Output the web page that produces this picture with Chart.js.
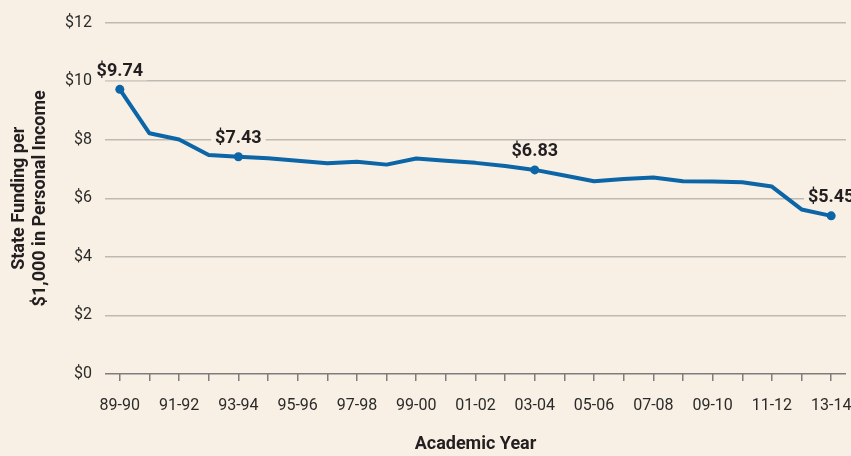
<!DOCTYPE html>
<html>
<head>
<meta charset="utf-8">
<script src="https://cdn.jsdelivr.net/npm/chart.js@4"></script>
<style>
  html, body { margin: 0; padding: 0; background: #f8f0e4; }
  #wrap { width: 851px; height: 456px; }
</style>
</head>
<body>
<div id="wrap"><canvas id="fundChart" width="851" height="456"></canvas></div>
<script>
// academic years 89-90 .. 13-14
const years = ['89-90', '90-91', '91-92', '92-93', '93-94', '94-95', '95-96', '96-97', '97-98', '98-99',
  '99-00', '00-01', '01-02', '02-03', '03-04', '04-05', '05-06', '06-07', '07-08', '08-09',
  '09-10', '10-11', '11-12', '12-13', '13-14'];
const funding = [9.72, 8.22, 8.01, 7.48, 7.42, 7.37, 7.28, 7.20, 7.25, 7.15,
  7.36, 7.28, 7.21, 7.10, 6.97, 6.78, 6.58, 6.66, 6.71, 6.58,
  6.57, 6.55, 6.40, 5.62, 5.40];
const calloutIdx = [0, 4, 14, 24];
const calloutText = ['$9.74', '$7.43', '$6.83', '$5.45'];
const yTicks = [0, 2, 4, 6, 8, 10, 12];

const BG = '#f8f0e4';
const FONT = 'Roboto, "Liberation Sans", sans-serif';

const callouts = {
  id: 'callouts',
  afterDatasetsDraw(chart) {
    const ctx = chart.ctx;
    const pts = chart.getDatasetMeta(0).data;
    ctx.save();
    ctx.font = 'bold 18px ' + FONT;
    ctx.textAlign = 'center';
    ctx.textBaseline = 'middle';
    calloutIdx.forEach((idx, k) => {
      const p = pts[idx];
      const t = calloutText[k];
      const w = ctx.measureText(t).width;
      const y = p.y - 18;
      ctx.fillStyle = BG;
      ctx.fillRect(p.x - w / 2 - 4, y - 9, w + 8, 18);
      ctx.fillStyle = '#231f20';
      ctx.fillText(t, p.x, y);
    });
    ctx.restore();
  }
};

new Chart(document.getElementById('fundChart').getContext('2d'), {
  type: 'line',
  data: {
    labels: years,
    datasets: [{
      data: funding,
      borderColor: '#0b65a7',
      backgroundColor: '#0b65a7',
      borderWidth: 4,
      tension: 0,
      pointRadius: c => calloutIdx.includes(c.dataIndex) ? 4.5 : 0,
      pointBorderWidth: 0,
      borderCapStyle: 'round',
      borderJoinStyle: 'round'
    }]
  },
  options: {
    responsive: false,
    animation: false,
    layout: { padding: { top: 14, right: 5, left: 0, bottom: 0 } },
    plugins: { legend: { display: false }, tooltip: { enabled: false } },
    scales: {
      x: {
        offset: true,
        afterFit: s => { s.height = 82; s.paddingLeft = 0; s.paddingRight = 0; },
        grid: { drawOnChartArea: false, drawTicks: true, tickLength: 7, color: '#7d7d7d', lineWidth: 1.5 },
        border: { display: false },
        ticks: {
          autoSkip: false, maxRotation: 0, padding: 15, color: '#2b2b2b',
          font: { family: FONT, size: 16 },
          callback: (v, i) => i % 2 === 0 ? years[i] : ''
        },
        title: {
          display: true, text: 'Academic Year', color: '#231f20',
          font: { family: FONT, size: 18, weight: 'bold' },
          padding: { top: 0, bottom: 1 }
        }
      },
      y: {
        min: 0, max: 12,
        afterFit: s => { s.width = 105; },
        afterBuildTicks: s => { s.ticks = yTicks.map(v => ({ value: v })); },
        grid: {
          drawTicks: false,
          color: c => c.tick && c.tick.value === 0 ? '#7d7d7d' : '#bdb9b3',
          lineWidth: 1.5
        },
        border: { display: false },
        ticks: {
          padding: 13, color: '#2b2b2b',
          font: { family: FONT, size: 16 },
          callback: v => '$' + v
        },
        title: {
          display: true, text: ['State Funding per', '$1,000 in Personal Income'], color: '#231f20',
          font: { family: FONT, size: 18, weight: 'bold', lineHeight: 1.15 },
          padding: { top: 9, bottom: 0 }
        }
      }
    }
  },
  plugins: [callouts]
});
</script>
</body>
</html>
